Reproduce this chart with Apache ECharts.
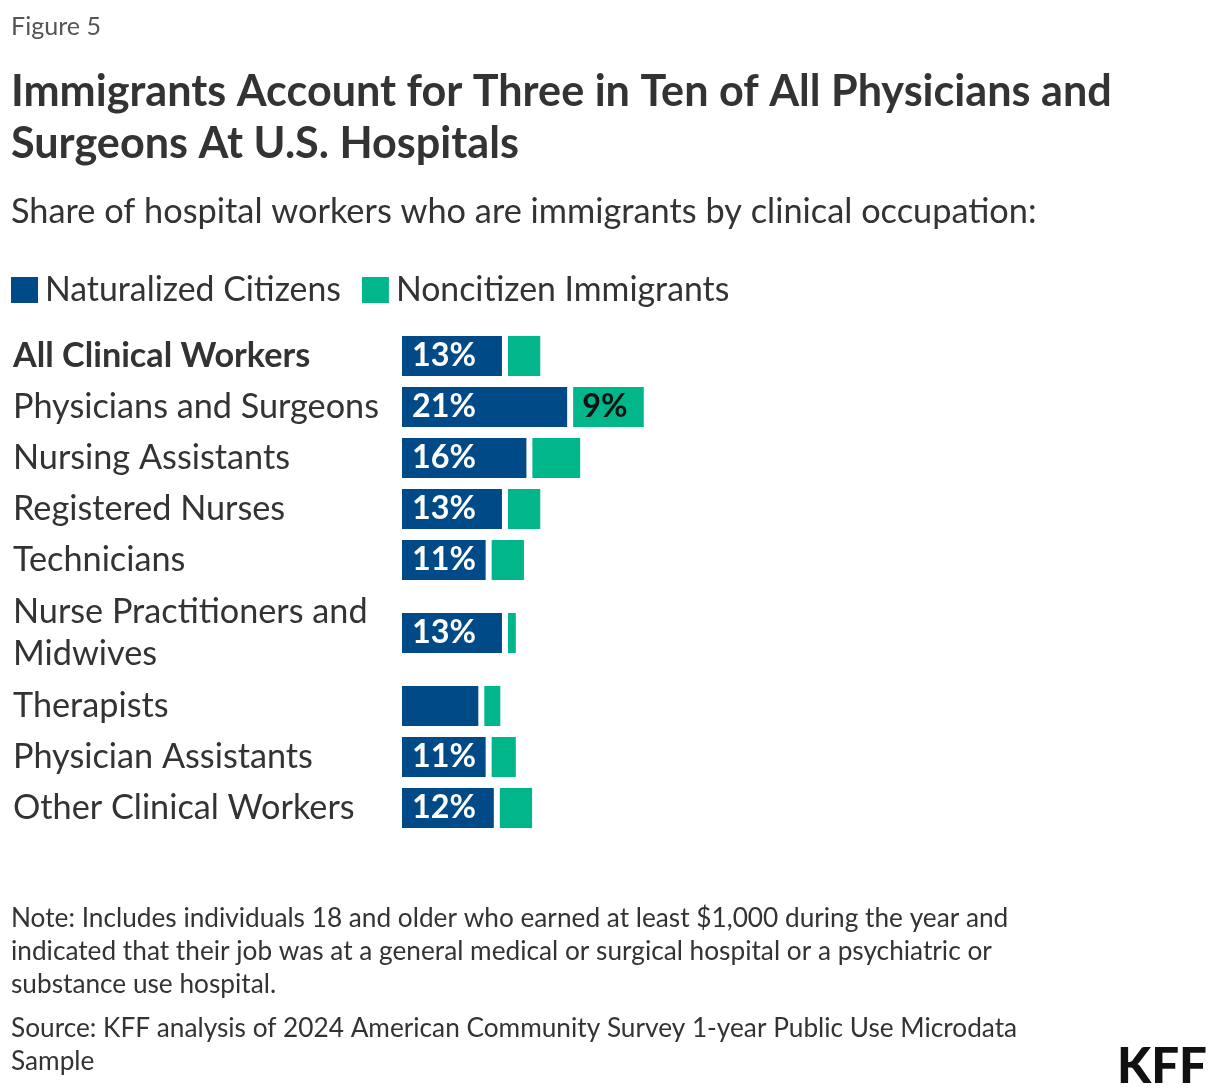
<!DOCTYPE html>
<html><head><meta charset="utf-8">
<script src="https://cdn.jsdelivr.net/npm/echarts@6/dist/echarts.min.js"></script>
<style>html,body{margin:0;padding:0;background:#fff}#c{width:1220px;height:1090px}</style>
</head><body><div id="c"></div>
<script>
// ---- data ----
const categories = ['All Clinical Workers', 'Physicians and Surgeons', 'Nursing Assistants', 'Registered Nurses', 'Technicians', 'Nurse Practitioners and\nMidwives', 'Therapists', 'Physician Assistants', 'Other Clinical Workers'];
const naturalized = [13.0, 21.0, 16.0, 13.0, 11.0, 13.0, 10.1, 11.0, 12.0];
const noncitizen = [4.7, 9.4, 6.6, 4.7, 4.7, 1.7, 2.7, 3.7, 4.7];
const naturalizedLabels = ['13%', '21%', '16%', '13%', '11%', '13%', '', '11%', '12%'];
const noncitizenLabels = ['', '9%', '', '', '', '', '', '', ''];
const seriesNames = ['Naturalized Citizens', 'Noncitizen Immigrants'];

const figureLabel = 'Figure 5';
const titleText = 'Immigrants Account for Three in Ten of All Physicians and\nSurgeons At U.S. Hospitals';
const subtitleText = 'Share of hospital workers who are immigrants by clinical occupation:';
const noteText = 'Note: Includes individuals 18 and older who earned at least $1,000 during the year and\nindicated that their job was at a general medical or surgical hospital or a psychiatric or\nsubstance use hospital.';
const sourceText = 'Source: KFF analysis of 2024 American Community Survey 1-year Public Use Microdata\nSample';
const logoText = 'KFF';

// ---- styling / layout ----
const FONT = 'Lato, "Noto Sans", sans-serif';
const BLUE = '#004a87', GREEN = '#00b68a', TEXT = '#333333';
const ctx = document.createElement('canvas').getContext('2d');
function fit(text, target, weight) {
  ctx.font = (weight || 'normal') + ' 100px ' + FONT;
  return 100 * target / ctx.measureText(text).width;
}
const fsFigure = fit('Figure 5', 90);
const fsTitle = fit('Immigrants Account for Three in Ten of All Physicians and', 1101, 'bold');
const fsSub = fit(subtitleText, 1026);
const fsLegend = fit('Naturalized Citizens', 296);
const fsCat = fit('Physicians and Surgeons', 366);
const fsNote = fit('Note: Includes individuals 18 and older who earned at least $1,000 during the year and', 998);
const fsBar = fit('13%', 64, 'bold');
const fsLogo = fit('KFF', 90, '900');

const gridLeft = 399, gridWidth = 815, axisMax = 100;
const rowH1 = 51, lineExtra = 44;
let y = 330.5;
const grids = [], xAxes = [], yAxes = [], series = [];
categories.forEach((cat, i) => {
  const lines = cat.split('\n').length;
  const h = rowH1 + (lines - 1) * lineExtra;
  grids.push({ left: gridLeft, top: y, width: gridWidth, height: h, containLabel: false });
  y += h;
  xAxes.push({ type: 'value', gridIndex: i, min: 0, max: axisMax, show: false });
  yAxes.push({
    type: 'category', gridIndex: i, data: [cat],
    axisLine: { show: false }, axisTick: { show: false }, splitLine: { show: false },
    axisLabel: {
      align: 'left', margin: gridLeft - 13, fontFamily: FONT, fontSize: fsCat,
      fontWeight: i === 0 ? 'bold' : 'normal', color: TEXT, lineHeight: 42
    }
  });
  series.push({
    name: seriesNames[0], type: 'bar', stack: 'r' + i, xAxisIndex: i, yAxisIndex: i,
    barWidth: 46, data: [naturalized[i]],
    itemStyle: { color: BLUE, borderColor: '#ffffff', borderWidth: 3 },
    label: {
      show: !!naturalizedLabels[i], formatter: naturalizedLabels[i], position: 'insideLeft', distance: 13,
      color: '#ffffff', fontFamily: FONT, fontWeight: 'bold', fontSize: fsBar
    },
    emphasis: { disabled: true }, animation: false
  });
  series.push({
    name: seriesNames[1], type: 'bar', stack: 'r' + i, xAxisIndex: i, yAxisIndex: i,
    barWidth: 46, data: [noncitizen[i]],
    itemStyle: { color: GREEN, borderColor: '#ffffff', borderWidth: 3 },
    label: {
      show: !!noncitizenLabels[i], formatter: noncitizenLabels[i], position: 'insideLeft', distance: 12,
      color: '#111111', fontFamily: FONT, fontWeight: 'bold', fontSize: fsBar
    },
    emphasis: { disabled: true }, animation: false
  });
});

const chart = echarts.init(document.getElementById('c'), null, { renderer: 'canvas' });
chart.setOption({
  backgroundColor: '#ffffff',
  animation: false,
  title: [
    { text: figureLabel, left: 11, top: 12, padding: 0, textStyle: { fontFamily: FONT, fontSize: fsFigure, fontWeight: 'normal', color: '#555555', lineHeight: 30 } },
    { text: titleText, left: 11, top: 66, padding: 0, textStyle: { fontFamily: FONT, fontSize: fsTitle, fontWeight: 'bold', color: TEXT, lineHeight: 52 } },
    { text: subtitleText, left: 11, top: 192, padding: 0, textStyle: { fontFamily: FONT, fontSize: fsSub, fontWeight: 'normal', color: TEXT, lineHeight: 40 } },
    { text: noteText, left: 11, top: 902.5, padding: 0, textStyle: { fontFamily: FONT, fontSize: fsNote, fontWeight: 'normal', color: TEXT, lineHeight: 33 } },
    { text: sourceText, left: 11, top: 1012.5, padding: 0, textStyle: { fontFamily: FONT, fontSize: fsNote, fontWeight: 'normal', color: TEXT, lineHeight: 33 } }
  ],
  legend: {
    data: seriesNames, left: 11, top: 273, padding: 0, itemWidth: 27, itemHeight: 26, itemGap: 21,
    icon: 'rect', selectedMode: false,
    itemStyle: { borderWidth: 0 },
    textStyle: { fontFamily: FONT, fontSize: fsLegend, color: TEXT, lineHeight: 26, padding: [0, 0, 0, 2] }
  },
  graphic: [
    { type: 'text', right: 13, top: 1043, style: { text: logoText, fontFamily: FONT, fontWeight: 900, fontSize: fsLogo, fill: '#111111' } }
  ],
  grid: grids, xAxis: xAxes, yAxis: yAxes, series: series
});
</script></body></html>
